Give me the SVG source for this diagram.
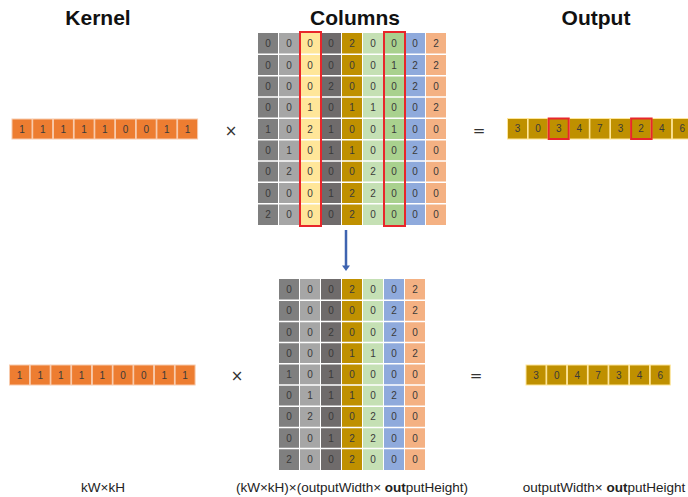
<svg xmlns="http://www.w3.org/2000/svg" width="688" height="497" viewBox="0 0 688 497">
<style>
.t{font-family:"Liberation Sans",Arial,sans-serif;font-size:10px;fill:#3a3a3a;text-anchor:middle}
.h{font-family:"Liberation Sans",Arial,sans-serif;font-size:21px;font-weight:bold;fill:#111;text-anchor:middle}
.op{font-family:"DejaVu Sans",sans-serif;font-size:15px;fill:#333;text-anchor:middle}
.lb{font-family:"Liberation Sans",Arial,sans-serif;font-size:13.5px;fill:#222;text-anchor:middle}
.k{fill:#ed7d31;stroke:#f8cbad;stroke-width:1}
.o{fill:#bf9000;stroke:#ffe699;stroke-width:1}
.red{fill:none;stroke:#e8262b;stroke-width:2}
.gl{stroke:#fff;stroke-width:1.5}
</style>
<rect width="688" height="497" fill="#fff"/>
<g id="titles">
<text class="h" x="98" y="25">Kernel</text>
<text class="h" x="355" y="25">Columns</text>
<text class="h" x="596" y="25">Output</text>
</g>
<g id="kernel-top">
<rect class="k" x="12" y="119" width="20" height="20"/><rect class="k" x="32.7" y="119" width="20" height="20"/><rect class="k" x="53.4" y="119" width="20" height="20"/><rect class="k" x="74.1" y="119" width="20" height="20"/><rect class="k" x="94.8" y="119" width="20" height="20"/><rect class="k" x="115.5" y="119" width="20" height="20"/><rect class="k" x="136.2" y="119" width="20" height="20"/><rect class="k" x="156.9" y="119" width="20" height="20"/><rect class="k" x="177.6" y="119" width="20" height="20"/>
<text class="t" x="22" y="132.6">1</text><text class="t" x="42.7" y="132.6">1</text><text class="t" x="63.4" y="132.6">1</text><text class="t" x="84.1" y="132.6">1</text><text class="t" x="104.8" y="132.6">1</text><text class="t" x="125.5" y="132.6">0</text><text class="t" x="146.2" y="132.6">0</text><text class="t" x="166.9" y="132.6">1</text><text class="t" x="187.6" y="132.6">1</text>
</g>
<g id="ops-top">
<text class="op" x="231" y="136">×</text>
<text class="op" x="479" y="136">=</text>
</g>
<g id="columns-top">
<rect x="258" y="33" width="20" height="192" fill="#7f7f7f"/>
<rect x="279" y="33" width="20" height="192" fill="#a6a6a6"/>
<rect x="300" y="33" width="20" height="192" fill="#ffe699"/>
<rect x="321" y="33" width="20" height="192" fill="#6f6b6b"/>
<rect x="342" y="33" width="20" height="192" fill="#bf9000"/>
<rect x="363" y="33" width="20" height="192" fill="#c5e0b4"/>
<rect x="384" y="33" width="20" height="192" fill="#a9d18e"/>
<rect x="405" y="33" width="20" height="192" fill="#8faadc"/>
<rect x="426" y="33" width="20" height="192" fill="#f4b183"/>
<path class="gl" d="M258 54.3H446M258 75.7H446M258 97H446M258 118.3H446M258 139.7H446M258 161H446M258 182.3H446M258 203.7H446"/>
<g class="t">
<text x="268" y="47.3">0</text><text x="289" y="47.3">0</text><text x="310" y="47.3">0</text><text x="331" y="47.3">0</text><text x="352" y="47.3">2</text><text x="373" y="47.3">0</text><text x="394" y="47.3">0</text><text x="415" y="47.3">0</text><text x="436" y="47.3">2</text>
<text x="268" y="68.6">0</text><text x="289" y="68.6">0</text><text x="310" y="68.6">0</text><text x="331" y="68.6">0</text><text x="352" y="68.6">0</text><text x="373" y="68.6">0</text><text x="394" y="68.6">1</text><text x="415" y="68.6">2</text><text x="436" y="68.6">2</text>
<text x="268" y="89.9">0</text><text x="289" y="89.9">0</text><text x="310" y="89.9">0</text><text x="331" y="89.9">2</text><text x="352" y="89.9">0</text><text x="373" y="89.9">0</text><text x="394" y="89.9">0</text><text x="415" y="89.9">2</text><text x="436" y="89.9">0</text>
<text x="268" y="111.3">0</text><text x="289" y="111.3">0</text><text x="310" y="111.3">1</text><text x="331" y="111.3">0</text><text x="352" y="111.3">1</text><text x="373" y="111.3">1</text><text x="394" y="111.3">0</text><text x="415" y="111.3">0</text><text x="436" y="111.3">2</text>
<text x="268" y="132.6">1</text><text x="289" y="132.6">0</text><text x="310" y="132.6">2</text><text x="331" y="132.6">1</text><text x="352" y="132.6">0</text><text x="373" y="132.6">0</text><text x="394" y="132.6">1</text><text x="415" y="132.6">0</text><text x="436" y="132.6">0</text>
<text x="268" y="153.9">0</text><text x="289" y="153.9">1</text><text x="310" y="153.9">0</text><text x="331" y="153.9">1</text><text x="352" y="153.9">1</text><text x="373" y="153.9">0</text><text x="394" y="153.9">0</text><text x="415" y="153.9">2</text><text x="436" y="153.9">0</text>
<text x="268" y="175.3">0</text><text x="289" y="175.3">2</text><text x="310" y="175.3">0</text><text x="331" y="175.3">0</text><text x="352" y="175.3">0</text><text x="373" y="175.3">2</text><text x="394" y="175.3">0</text><text x="415" y="175.3">0</text><text x="436" y="175.3">0</text>
<text x="268" y="196.6">0</text><text x="289" y="196.6">0</text><text x="310" y="196.6">0</text><text x="331" y="196.6">1</text><text x="352" y="196.6">2</text><text x="373" y="196.6">2</text><text x="394" y="196.6">0</text><text x="415" y="196.6">0</text><text x="436" y="196.6">0</text>
<text x="268" y="217.9">2</text><text x="289" y="217.9">0</text><text x="310" y="217.9">0</text><text x="331" y="217.9">0</text><text x="352" y="217.9">2</text><text x="373" y="217.9">0</text><text x="394" y="217.9">0</text><text x="415" y="217.9">0</text><text x="436" y="217.9">0</text>
</g>
<rect class="red" x="300" y="32" width="21" height="194"/>
<rect class="red" x="384" y="32" width="21" height="194"/>
</g>
<g id="output-top">
<rect class="o" x="507.5" y="118.5" width="20" height="20.5"/><rect class="o" x="528.1" y="118.5" width="20" height="20.5"/><rect class="o" x="548.7" y="118.5" width="20" height="20.5"/><rect class="o" x="569.3" y="118.5" width="20" height="20.5"/><rect class="o" x="589.9" y="118.5" width="20" height="20.5"/><rect class="o" x="610.5" y="118.5" width="20" height="20.5"/><rect class="o" x="631.1" y="118.5" width="20" height="20.5"/><rect class="o" x="651.7" y="118.5" width="20" height="20.5"/><rect class="o" x="672.3" y="118.5" width="20" height="20.5"/>
<text class="t" x="517.5" y="132.3">3</text><text class="t" x="538.1" y="132.3">0</text><text class="t" x="558.7" y="132.3">3</text><text class="t" x="579.3" y="132.3">4</text><text class="t" x="599.9" y="132.3">7</text><text class="t" x="620.5" y="132.3">3</text><text class="t" x="641.1" y="132.3">2</text><text class="t" x="661.7" y="132.3">4</text><text class="t" x="682.3" y="132.3">6</text>
<rect class="red" x="548.7" y="118.5" width="20" height="20.5"/>
<rect class="red" x="631.1" y="118.5" width="20.5" height="20.5"/>
</g>
<g id="connectors">
<line x1="346" y1="230" x2="346" y2="266" stroke="#3f64b0" stroke-width="2.5"/>
<path d="M342 265.5L350 265.5L346 271Z" fill="#3f64b0"/>
</g>
<g id="kernel-bottom">
<rect class="k" x="9.5" y="365" width="20" height="20"/><rect class="k" x="30.2" y="365" width="20" height="20"/><rect class="k" x="50.9" y="365" width="20" height="20"/><rect class="k" x="71.6" y="365" width="20" height="20"/><rect class="k" x="92.3" y="365" width="20" height="20"/><rect class="k" x="113" y="365" width="20" height="20"/><rect class="k" x="133.7" y="365" width="20" height="20"/><rect class="k" x="154.4" y="365" width="20" height="20"/><rect class="k" x="175.1" y="365" width="20" height="20"/>
<text class="t" x="19.5" y="378.6">1</text><text class="t" x="40.2" y="378.6">1</text><text class="t" x="60.9" y="378.6">1</text><text class="t" x="81.6" y="378.6">1</text><text class="t" x="102.3" y="378.6">1</text><text class="t" x="123" y="378.6">0</text><text class="t" x="143.7" y="378.6">0</text><text class="t" x="164.4" y="378.6">1</text><text class="t" x="185.1" y="378.6">1</text>
</g>
<g id="ops-bottom">
<text class="op" x="237" y="381">×</text>
<text class="op" x="476" y="381">=</text>
</g>
<g id="columns-bottom">
<rect x="279" y="279" width="20" height="191" fill="#7f7f7f"/>
<rect x="300" y="279" width="20" height="191" fill="#a6a6a6"/>
<rect x="321" y="279" width="20" height="191" fill="#6f6b6b"/>
<rect x="342" y="279" width="20" height="191" fill="#bf9000"/>
<rect x="363" y="279" width="20" height="191" fill="#c5e0b4"/>
<rect x="384" y="279" width="20" height="191" fill="#8faadc"/>
<rect x="405" y="279" width="20" height="191" fill="#f4b183"/>
<path class="gl" d="M279 300.2H425M279 321.4H425M279 342.6H425M279 363.8H425M279 385H425M279 406.2H425M279 427.4H425M279 448.6H425"/>
<g class="t">
<text x="289" y="293.2">0</text><text x="310" y="293.2">0</text><text x="331" y="293.2">0</text><text x="352" y="293.2">2</text><text x="373" y="293.2">0</text><text x="394" y="293.2">0</text><text x="415" y="293.2">2</text>
<text x="289" y="314.4">0</text><text x="310" y="314.4">0</text><text x="331" y="314.4">0</text><text x="352" y="314.4">0</text><text x="373" y="314.4">0</text><text x="394" y="314.4">2</text><text x="415" y="314.4">2</text>
<text x="289" y="335.6">0</text><text x="310" y="335.6">0</text><text x="331" y="335.6">2</text><text x="352" y="335.6">0</text><text x="373" y="335.6">0</text><text x="394" y="335.6">2</text><text x="415" y="335.6">0</text>
<text x="289" y="356.8">0</text><text x="310" y="356.8">0</text><text x="331" y="356.8">0</text><text x="352" y="356.8">1</text><text x="373" y="356.8">1</text><text x="394" y="356.8">0</text><text x="415" y="356.8">2</text>
<text x="289" y="378">1</text><text x="310" y="378">0</text><text x="331" y="378">1</text><text x="352" y="378">0</text><text x="373" y="378">0</text><text x="394" y="378">0</text><text x="415" y="378">0</text>
<text x="289" y="399.2">0</text><text x="310" y="399.2">1</text><text x="331" y="399.2">1</text><text x="352" y="399.2">1</text><text x="373" y="399.2">0</text><text x="394" y="399.2">2</text><text x="415" y="399.2">0</text>
<text x="289" y="420.4">0</text><text x="310" y="420.4">2</text><text x="331" y="420.4">0</text><text x="352" y="420.4">0</text><text x="373" y="420.4">2</text><text x="394" y="420.4">0</text><text x="415" y="420.4">0</text>
<text x="289" y="441.6">0</text><text x="310" y="441.6">0</text><text x="331" y="441.6">1</text><text x="352" y="441.6">2</text><text x="373" y="441.6">2</text><text x="394" y="441.6">0</text><text x="415" y="441.6">0</text>
<text x="289" y="462.8">2</text><text x="310" y="462.8">0</text><text x="331" y="462.8">0</text><text x="352" y="462.8">2</text><text x="373" y="462.8">0</text><text x="394" y="462.8">0</text><text x="415" y="462.8">0</text>
</g>
</g>
<g id="output-bottom">
<rect class="o" x="526" y="365" width="20" height="20"/><rect class="o" x="546.7" y="365" width="20" height="20"/><rect class="o" x="567.4" y="365" width="20" height="20"/><rect class="o" x="588.1" y="365" width="20" height="20"/><rect class="o" x="608.8" y="365" width="20" height="20"/><rect class="o" x="629.5" y="365" width="20" height="20"/><rect class="o" x="650.2" y="365" width="20" height="20"/>
<text class="t" x="536" y="378.6">3</text><text class="t" x="556.7" y="378.6">0</text><text class="t" x="577.4" y="378.6">4</text><text class="t" x="598.1" y="378.6">7</text><text class="t" x="618.8" y="378.6">3</text><text class="t" x="639.5" y="378.6">4</text><text class="t" x="660.2" y="378.6">6</text>
</g>
<g id="labels">
<text class="lb" x="103" y="492">kW×kH</text>
<text class="lb" x="352" y="492">(kW×kH)×(outputWidth× <tspan font-weight="bold">out</tspan>putHeight)</text>
<text class="lb" x="604" y="492">outputWidth× <tspan font-weight="bold">out</tspan>putHeight</text>
</g>
</svg>
